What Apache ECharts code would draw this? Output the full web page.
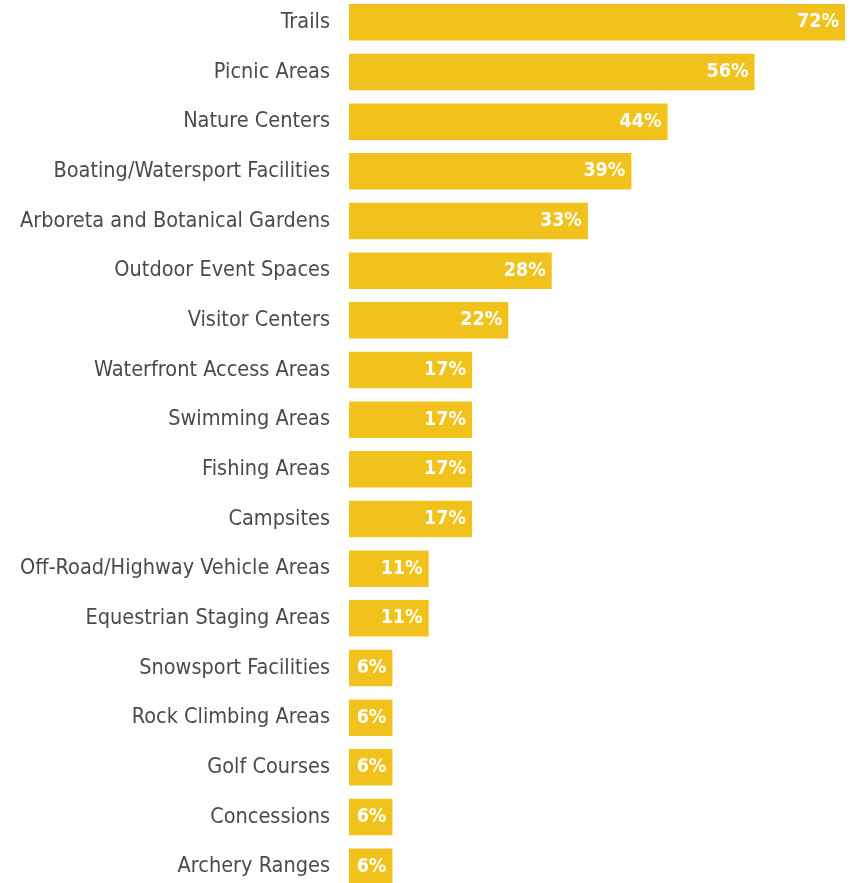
<!DOCTYPE html>
<html>
<head>
<meta charset="utf-8">
<script src="https://cdn.jsdelivr.net/npm/echarts@6/dist/echarts.min.js"></script>
<style>
  html, body { margin: 0; padding: 0; background: #ffffff; overflow: hidden; }
  /* the chart runs a little past the window so the last bar is cut by the bottom edge */
  #chart { width: 860px; height: 900px; margin-top: -3px; }
</style>
</head>
<body>
<div id="chart"></div>
<script>
// Amenities offered, share of sites (%), listed top to bottom
const categories = [
  'Trails',
  'Picnic Areas',
  'Nature Centers',
  'Boating/Watersport Facilities',
  'Arboreta and Botanical Gardens',
  'Outdoor Event Spaces',
  'Visitor Centers',
  'Waterfront Access Areas',
  'Swimming Areas',
  'Fishing Areas',
  'Campsites',
  'Off-Road/Highway Vehicle Areas',
  'Equestrian Staging Areas',
  'Snowsport Facilities',
  'Rock Climbing Areas',
  'Golf Courses',
  'Concessions',
  'Archery Ranges'
];
const shares = [72, 56, 44, 39, 33, 28, 22, 17, 17, 17, 17, 11, 11, 6, 6, 6, 6, 6];

const FONT = '"DejaVu Sans Condensed", "Liberation Sans Narrow", sans-serif';
const chart = echarts.init(document.getElementById('chart'), null, { renderer: 'canvas' });

chart.setOption({
  animation: false,
  backgroundColor: '#ffffff',
  grid: { left: 349, right: 15, top: 0.5, height: 894, containLabel: false },
  xAxis: {
    type: 'value',
    min: 0,
    max: 68.5,
    show: false
  },
  yAxis: {
    type: 'category',
    inverse: true,
    data: categories,
    axisLine: { show: false },
    axisTick: { show: false },
    splitLine: { show: false },
    axisLabel: {
      margin: 19,
      color: '#4a4a4a',
      fontFamily: FONT,
      fontSize: 21.5
    }
  },
  series: [{
    type: 'bar',
    data: shares,
    barWidth: 36.5,
    clip: true,
    itemStyle: { color: '#F1C21B' },
    label: {
      show: true,
      position: 'insideRight',
      distance: 6,
      formatter: '{c}%',
      color: '#ffffff',
      fontFamily: FONT,
      fontWeight: 'bold',
      fontSize: 19.5
    }
  }]
});
</script>
</body>
</html>
